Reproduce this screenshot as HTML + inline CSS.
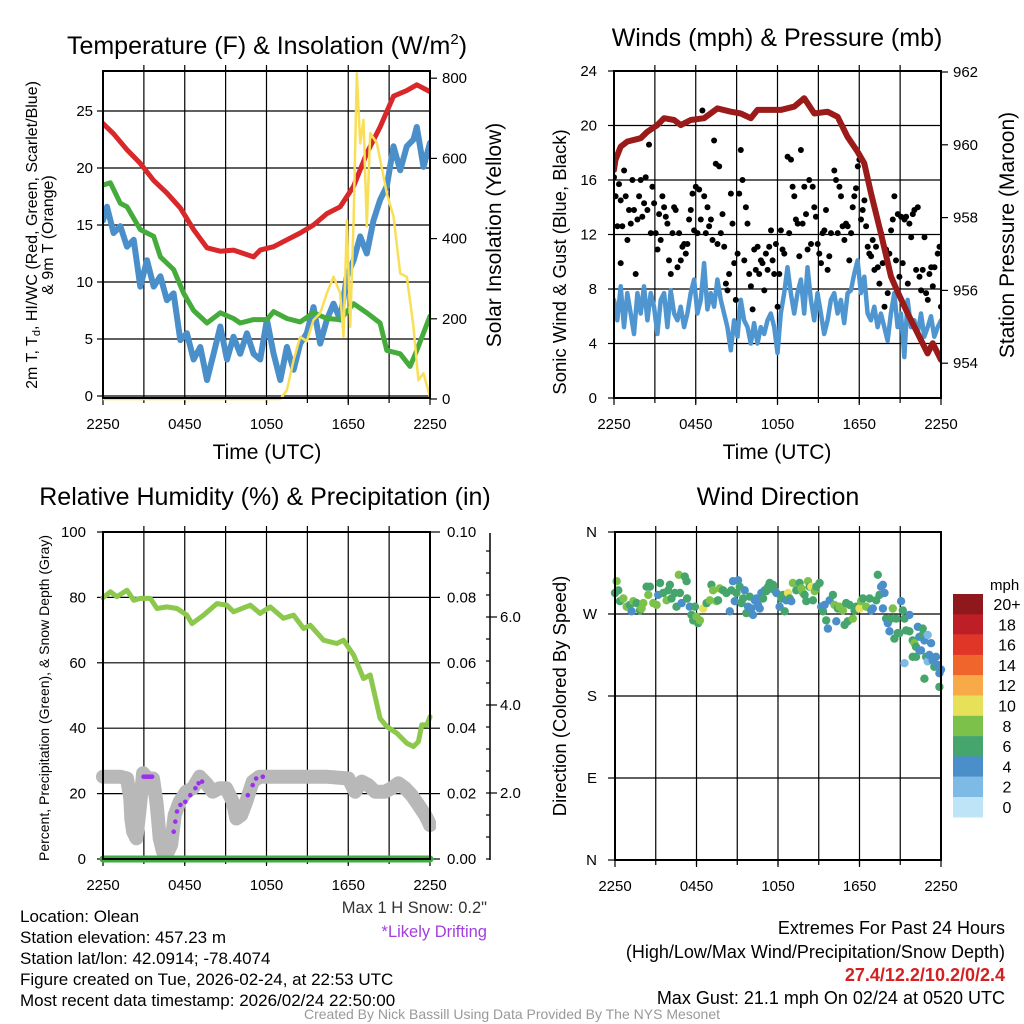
<!DOCTYPE html>
<html><head><meta charset="utf-8"><style>
html,body{margin:0;padding:0;background:#fff}
svg{display:block;font-family:"Liberation Sans",Arial,sans-serif}
</style></head><body>
<svg id="fig" width="1024" height="1024" viewBox="0 0 1024 1024" xmlns="http://www.w3.org/2000/svg">
<defs>
<clipPath id="c1"><rect x="103" y="66" width="327" height="336"/></clipPath>
<clipPath id="c2"><rect x="614" y="71" width="327" height="331"/></clipPath>
<clipPath id="c3"><rect x="96" y="532" width="340" height="334"/></clipPath>
<clipPath id="c4"><rect x="607" y="532" width="340" height="328"/></clipPath>
</defs>
<g id="grids" stroke="#000" stroke-width="1.2" fill="none"></g>
<g id="marks"></g>
<g id="frames" fill="none" stroke="#000" stroke-width="2">
<rect x="103" y="71" width="327" height="327"/>
<rect x="614" y="71" width="327" height="327"/>
<rect x="103" y="532" width="327" height="327"/>
<rect x="615" y="532" width="326" height="328"/>
<line x1="490" y1="533" x2="490" y2="860" stroke-width="1.5"/>
</g>
<g id="labels" font-size="15" fill="#000"></g>
<g font-size="25" text-anchor="middle">
<text x="267" y="54">Temperature (F) &amp; Insolation (W/m<tspan font-size="15" dy="-10">2</tspan><tspan dy="10">)</tspan></text>
<text x="777" y="46">Winds (mph) &amp; Pressure (mb)</text>
<text x="265" y="505">Relative Humidity (%) &amp; Precipitation (in)</text>
<text x="778" y="505">Wind Direction</text>
</g>
<g font-size="21" text-anchor="middle">
<text x="267" y="459">Time (UTC)</text>
<text x="777" y="459">Time (UTC)</text>
<text transform="translate(501,235) rotate(-90)">Solar Insolation (Yellow)</text>
<text transform="translate(1014,235) rotate(-90)">Station Pressure (Maroon)</text>
</g>
<g font-size="18.5" text-anchor="middle">
<text transform="translate(566,262) rotate(-90)">Sonic Wind &amp; Gust (Blue, Black)</text>
<text transform="translate(566,696) rotate(-90)">Direction (Colored By Speed)</text>
</g>
<g font-size="16" text-anchor="middle">
<text transform="translate(37,235) rotate(-90)">2m T, T<tspan font-size="11" dy="3">d</tspan><tspan dy="-3">, HI/WC (Red, Green, Scarlet/Blue)</tspan></text>
<text transform="translate(53,235) rotate(-90)">&amp; 9m T (Orange)</text>
<text transform="translate(49,698) rotate(-90)" font-size="14">Percent, Precipitation (Green), &amp; Snow Depth (Gray)</text>
</g>
<g font-size="17">
<text x="20" y="922">Location: Olean</text>
<text x="20" y="943">Station elevation: 457.23 m</text>
<text x="20" y="964">Station lat/lon: 42.0914; -78.4074</text>
<text x="20" y="985">Figure created on Tue, 2026-02-24, at 22:53 UTC</text>
<text x="20" y="1006">Most recent data timestamp: 2026/02/24 22:50:00</text>
<text x="487" y="913" font-size="16.5" text-anchor="end" fill="#333">Max 1 H Snow: 0.2"</text>
<text x="487" y="937" font-size="16.5" text-anchor="end" fill="#a040e0">*Likely Drifting</text>
</g>
<g font-size="18" text-anchor="end">
<text x="1005" y="934">Extremes For Past 24 Hours</text>
<text x="1005" y="958">(High/Low/Max Wind/Precipitation/Snow Depth)</text>
<text x="1005" y="981" fill="#d42020" font-weight="bold">27.4/12.2/10.2/0/2.4</text>
<text x="1005" y="1004">Max Gust: 21.1 mph On 02/24 at 0520 UTC</text>
</g>
<text x="512" y="1019" text-anchor="middle" font-size="14" fill="#999">Created By Nick Bassill Using Data Provided By The NYS Mesonet</text>
<g id="cbar"></g>
</svg>
<script>
// ---------- data ----------
const xTickLabels = ["2250","0450","1050","1650","2250"];
const tempTickLabels = [0,5,10,15,20,25];
const solarTickLabels = [0,200,400,600,800];
const windTickLabels = [0,4,8,12,16,20,24];
const presTickLabels = [954,956,958,960,962];
const rhTickLabels = [0,20,40,60,80,100];
const precipTickLabels = ["0.00","0.02","0.04","0.06","0.08","0.10"];
const snowTickLabels = ["2.0","4.0","6.0"];
const dirTickLabels = ["N","E","S","W","N"];
const speedBins = ["0","2","4","6","8","10","12","14","16","18","20+"];
const speedColors = ["#bde4f7","#7dbbe6","#4a8fc9","#46a56c","#7cc24a","#e7e15a","#f7aa47","#ef652b","#df3628","#be1e26","#8f181c"];

const redHours = [0,0.78,1.76,2.74,3.72,4.69,5.67,6.65,7.63,8.61,9.58,10.56,11.05,11.54,12.52,13.5,14.47,15.45,16.43,17.41,18.39,19.36,20.34,21.32,22.3,23.03,24];
const redTemp = [23.9,23.0,21.6,20.4,18.9,17.8,16.5,14.6,13.0,12.7,12.8,12.4,12.2,12.8,13.1,13.7,14.3,15.0,16.0,16.6,18.4,21.3,23.6,26.3,26.8,27.3,26.7];
const greenHours = [0,0.54,1.27,1.76,2.74,3.72,4.21,5.18,5.92,6.65,7.63,8.61,9.58,10.07,11.05,12.03,12.52,13.5,14.47,15.45,16.43,17.41,18.39,19.36,20.34,20.83,21.81,22.54,23.03,24];
const greenTemp = [18.5,18.7,16.9,16.6,14.6,14.0,12.2,11.1,9.0,7.5,6.4,7.3,6.8,6.4,6.7,6.7,7.4,6.8,6.5,7.3,6.8,6.7,8.1,7.3,6.4,4.0,3.7,2.6,4.0,7.0];
const blueHours = [0,0.29,0.78,1.27,1.76,2.25,2.74,3.23,3.72,4.21,4.69,5.18,5.67,6.16,6.65,7.14,7.63,8.12,8.61,9.1,9.58,10.07,10.56,11.05,11.54,12.03,12.52,13.01,13.5,13.99,14.47,14.96,15.45,15.94,16.43,16.92,17.41,17.9,18.39,18.88,19.36,19.85,20.34,20.83,21.32,21.81,22.3,22.79,23.03,23.52,24.0];
const blueTemp = [15.4,16.6,14.3,14.9,13.1,13.7,9.6,11.9,9.6,10.5,8.4,9.0,4.9,5.5,3.2,4.3,1.4,3.7,6.1,3.2,5.2,3.7,5.5,3.7,3.2,6.7,3.7,1.4,4.3,2.3,4.6,5.5,7.8,4.6,6.7,8.1,6.7,10.5,11.9,14.0,12.5,15.4,17.2,18.4,21.9,19.8,21.9,22.5,23.6,20.1,22.2];
const solarHours = [0,13.01,13.5,13.99,14.47,14.96,15.45,15.94,16.43,16.92,17.41,17.65,17.9,18.14,18.39,18.63,18.88,19.12,19.36,19.61,20.1,20.83,21.32,21.81,22.3,22.79,23.15,23.52,24];
const solarWm2 = [0,0,22,97,155,144,197,214,264,305,264,155,446,180,446,812,638,696,430,663,638,513,455,313,305,180,47,64,5];

const presHours = [0,0.1,0.49,0.98,1.96,2.45,3.18,3.67,4.41,4.9,5.63,6.61,7.59,8.57,9.31,10.04,10.53,11.27,12.25,13.23,13.96,14.7,15.67,16.41,17.14,17.88,18.37,18.86,19.59,20.33,20.82,21.55,22.29,23.02,23.39,24];
const presMb = [959.31,959.58,959.95,960.09,960.18,960.36,960.54,960.73,960.68,960.54,960.68,960.73,961.0,960.91,960.86,960.73,960.96,960.96,960.96,961.05,961.28,960.86,960.91,960.77,960.22,959.81,959.49,958.67,957.57,956.38,955.96,955.37,954.82,954.27,954.55,954.09];
const windMph = [7.2,5.7,8.2,5.2,7.7,6.2,4.7,7.7,6.2,8.2,5.7,7.7,6.7,4.7,7.2,7.7,5.2,7.9,6.2,5.7,6.7,5.2,6.2,7.7,8.7,6.2,7.2,9.9,6.5,7.7,6.7,8.7,7.2,6.2,5.2,3.5,5.7,4.5,7.2,5.7,5.2,4.0,5.5,4.0,5.2,4.7,5.7,6.2,5.2,3.3,6.2,7.7,9.6,7.7,6.2,7.7,8.7,6.2,9.6,7.2,5.7,7.7,6.2,4.7,5.7,7.2,7.7,6.2,7.2,5.5,7.7,7.9,9.1,10.1,7.7,8.9,6.2,5.7,6.7,5.2,6.2,5.2,4.2,6.2,7.7,5.2,6.2,3.0,7.2,5.2,5.7,4.7,6.2,4.5,5.2,6.0,4.5,5.2,5.7];
const gustHours = [0,0.12,0.25,0.37,0.49,0.61,0.49,0.74,0.86,0.98,1.1,1.23,1.35,1.47,1.59,1.72,1.84,1.96,2.08,2.21,2.33,2.45,2.57,2.7,2.82,2.94,3.06,3.19,3.31,3.43,3.55,3.68,3.8,3.92,4.04,4.17,4.29,4.41,4.53,4.66,4.78,4.9,5.02,5.15,5.27,5.39,5.51,5.64,5.76,5.88,6.0,6.13,6.25,6.37,6.49,6.62,6.74,6.86,6.98,7.11,7.23,7.35,7.47,7.6,7.72,7.84,7.96,8.09,8.21,8.33,8.45,8.58,8.7,8.82,8.94,9.07,9.19,9.31,9.43,9.56,9.68,9.8,9.92,10.05,10.17,10.29,10.41,10.54,10.66,10.78,10.9,11.03,11.15,11.27,11.39,11.52,11.64,11.76,11.88,12.01,12.13,12.25,12.37,12.5,12.74,12.86,12.99,13.11,13.23,13.35,13.48,13.6,13.72,13.84,13.97,14.09,14.21,14.33,14.46,14.58,14.7,14.82,14.95,15.07,15.19,15.31,15.44,15.56,15.68,15.8,15.93,16.17,16.29,16.42,16.54,16.66,16.78,16.91,17.03,17.15,17.27,17.4,17.52,17.64,17.76,17.89,18.01,18.13,18.25,18.38,18.5,18.62,18.74,18.87,18.99,19.11,19.23,19.36,19.48,19.6,19.72,19.85,19.97,20.09,20.21,20.34,20.46,20.58,20.7,20.83,20.95,21.07,21.19,21.32,21.44,21.56,21.68,21.81,21.93,22.05,22.17,22.3,22.42,22.54,22.66,22.79,22.91,23.03,23.15,23.28,23.4,23.52,23.76,23.89,24.0];
const gustMph = [16.2,14.8,12.6,15.7,14.5,12.6,9.9,16.7,14.8,11.6,13.8,12.8,16.0,13.8,9.1,13.1,14.8,16.0,13.3,14.3,16.2,13.8,18.6,12.1,15.5,14.3,12.1,10.9,13.5,11.6,14.8,14.0,13.3,12.8,10.1,9.1,12.1,14.0,13.8,9.6,12.1,10.1,11.1,11.3,10.6,11.3,13.1,13.8,15.0,12.3,15.5,12.1,15.3,13.1,21.1,14.8,12.1,14.0,12.6,13.1,11.6,18.9,17.2,11.3,17.0,12.1,13.5,11.1,8.4,7.9,9.1,15.0,12.8,9.9,7.2,10.6,15.0,18.2,16.0,10.1,14.0,12.8,9.1,8.2,6.5,10.9,9.4,11.1,9.1,10.1,9.9,7.9,10.6,9.4,11.1,12.3,10.1,9.1,11.3,6.7,9.1,12.3,10.9,10.6,17.7,12.1,17.5,15.5,14.8,13.1,12.8,10.4,18.2,12.8,15.5,13.5,10.9,16.0,11.3,15.5,14.0,13.3,11.3,10.6,9.9,12.1,12.3,13.8,9.4,10.4,12.1,16.7,16.0,12.1,15.5,14.8,12.6,11.6,12.8,12.6,10.1,12.1,14.0,14.8,15.4,17.0,17.5,13.1,13.8,14.5,12.6,11.1,10.6,10.4,11.6,9.4,11.1,9.6,8.4,12.1,9.9,6.7,10.9,7.7,10.6,12.3,13.1,14.8,10.1,13.5,8.9,13.3,9.9,13.1,13.3,8.4,12.8,11.8,13.5,13.8,9.4,14.0,8.9,7.9,9.4,11.8,7.7,7.2,9.1,9.6,8.2,9.6,10.6,11.1,6.7];

const rhHours = [0,0.54,1.03,1.76,2.25,2.74,3.47,3.96,4.69,5.43,6.16,6.53,7.38,8.36,9.1,9.58,10.81,11.54,12.27,13.25,13.99,14.72,15.21,16.19,17.16,17.65,18.39,19.12,19.61,20.34,20.83,21.56,22.3,22.79,23.15,23.4,23.77,24];
const rhPct = [79.9,81.7,80.2,82.2,79.1,79.7,79.7,76.6,77.1,76.6,74.6,72.0,74.6,78.1,77.6,75.6,77.6,75.1,77.1,73.6,74.6,70.5,71.5,66.9,65.9,66.9,62.4,55.2,56.3,43.0,40.5,38.5,35.4,34.4,35.9,41.0,41.0,43.5];
const precipHours = [0,24];
const precipIn = [0,0];
const snowHours = [0,0.54,1.27,1.76,2.0,2.08,2.21,2.45,2.69,2.94,3.3,3.67,3.92,4.04,4.16,4.4,4.65,5.0,5.26,5.62,6.11,6.6,7.1,7.57,8.06,8.55,9.04,9.53,9.78,10.14,10.51,10.99,11.48,12.97,14.44,16.4,18.01,18.5,18.99,19.47,19.96,20.7,21.19,21.68,22.17,22.66,23.15,23.64,23.89,24];
const snowIn = [2.37,2.37,2.37,2.33,1.88,1.42,1.12,0.97,1.65,2.45,2.33,2.33,1.80,1.42,0.97,0.67,0.59,0.82,1.50,1.80,2.03,2.11,2.37,2.22,2.03,2.11,2.11,1.80,1.42,1.50,1.80,2.26,2.37,2.37,2.37,2.37,2.33,2.03,2.26,2.18,2.03,2.03,2.11,2.22,2.11,1.95,1.73,1.50,1.35,1.27];
const driftHours = [2.98,3.1,3.22,3.35,3.47,3.6,5.19,5.31,5.43,5.68,6.04,6.41,6.78,7.02,7.27,10.63,10.99,11.24,11.73];
const driftIn = [2.37,2.37,2.37,2.37,2.37,2.37,1.12,1.35,1.58,1.73,1.80,1.95,2.11,2.22,2.26,1.95,2.18,2.33,2.37];

const dirHours = [0,0.12,0.24,0.37,0.61,0.86,1.1,1.22,1.35,1.59,1.84,1.96,2.08,2.33,2.45,2.57,2.82,3.06,3.18,3.31,3.55,3.8,3.92,4.04,4.16,4.41,4.53,4.7,4.78,4.9,5.14,5.27,5.31,5.51,5.63,5.76,5.88,6.0,6.12,6.25,6.49,6.74,6.98,7.1,7.22,7.47,7.59,7.71,7.96,8.2,8.45,8.57,8.69,8.82,8.94,9.06,9.18,9.31,9.43,9.55,9.67,9.8,9.92,10.04,10.16,10.29,10.41,10.53,10.65,10.78,10.9,11.02,11.14,11.27,11.39,11.51,11.63,11.76,11.88,12.12,12.25,12.37,12.49,12.61,12.74,12.86,12.98,13.1,13.35,13.59,13.72,13.84,13.96,14.08,14.21,14.33,14.45,14.57,14.7,14.82,15.06,15.18,15.31,15.43,15.55,15.67,15.8,16.04,16.16,16.29,16.41,16.53,16.78,16.9,17.02,17.14,17.27,17.51,17.63,17.76,18.0,18.12,18.25,18.49,18.74,18.86,18.98,19.23,19.35,19.47,19.59,19.72,19.84,19.72,19.96,20.08,20.21,20.33,20.45,20.57,20.7,20.82,20.94,21.06,21.19,21.31,21.43,21.67,21.67,21.92,22.04,22.16,22.29,22.41,22.53,22.65,22.65,22.78,22.9,23.02,23.02,23.14,23.27,23.39,23.51,23.63,23.76,23.88,24.0,23.88,21.31,22.78,21.92,22.16,22.41];
const dirDeg = [293,306,296,284,287,278,280,273,284,282,274,276,282,300,291,300,282,280,291,304,293,285,296,302,287,293,278,313,293,282,311,306,287,278,269,263,278,267,260,263,276,282,285,302,296,284,285,298,296,293,273,296,306,284,293,307,300,282,287,296,271,278,289,276,269,285,287,280,276,293,287,296,295,300,304,298,302,296,293,278,287,291,273,285,293,287,284,304,296,304,298,293,291,284,306,300,300,285,295,300,304,278,273,280,263,254,285,291,280,262,276,278,274,258,282,262,280,265,274,278,276,284,287,278,287,274,276,285,313,291,300,302,293,276,265,260,251,265,276,243,265,249,249,284,274,265,252,269,251,241,238,234,256,245,230,254,247,241,223,247,218,225,238,219,212,223,214,205,209,190,216,199,223,223,230];
const dirSpeed = [6.5,8.5,6.5,6.5,8.5,8.5,6.5,4.5,8.5,6.5,6.5,8.5,8.5,6.5,8.5,6.5,8.5,8.5,4.5,6.5,6.5,8.5,6.5,6.5,6.5,6.5,6.5,8.5,6.5,4.5,6.5,6.5,6.5,4.5,6.5,6.5,6.5,8.5,6.5,8.5,10.5,6.5,8.5,6.5,8.5,8.5,6.5,8.5,6.5,6.5,4.5,6.5,4.5,4.5,6.5,4.5,6.5,6.5,6.5,4.5,6.5,4.5,6.5,4.5,4.5,4.5,4.5,4.5,4.5,4.5,6.5,4.5,6.5,6.5,6.5,6.5,6.5,6.5,4.5,4.5,6.5,6.5,6.5,4.5,10.5,6.5,4.5,8.5,6.5,6.5,8.5,8.5,6.5,6.5,8.5,6.5,10.5,6.5,8.5,6.5,6.5,4.5,6.5,4.5,6.5,4.5,4.5,6.5,8.5,4.5,6.5,8.5,8.5,6.5,6.5,6.5,6.5,8.5,6.5,6.5,10.5,8.5,6.5,8.5,6.5,4.5,4.5,6.5,6.5,6.5,4.5,4.5,4.5,4.5,6.5,4.5,4.5,6.5,8.5,6.5,6.5,6.5,6.5,4.5,6.5,6.5,6.5,4.5,6.5,6.5,8.5,6.5,4.5,4.5,4.5,6.5,6.5,4.5,6.5,2.5,2.5,4.5,4.5,4.5,6.5,4.5,4.5,4.5,4.5,6.5,2.5,6.5,6.5,6.5,4.5];

// ---------- scales ----------
const NS="http://www.w3.org/2000/svg";
function el(tag,parent){const e=document.createElementNS(NS,tag);parent.appendChild(e);return e;}
const x1=h=>103+h/24*327, x2=h=>614+h/24*327, x4=h=>615+h/24*326;
const yT=v=>396-v*11.4, yS=v=>399-v*0.401;
const yW=v=>398-v*13.625, yP=v=>72+(962-v)*36.4;
const yR=v=>859-v*3.27, yPr=v=>859-v*3270, ySn=v=>881-v*44;
const yD=v=>860-v/360*328;
const grids=document.getElementById('grids'), marks=document.getElementById('marks'), labels=document.getElementById('labels');

function gl(a,b,c,d,name){const l=el('line',grids);l.setAttribute('x1',a);l.setAttribute('y1',b);l.setAttribute('x2',c);l.setAttribute('y2',d);


return l;}
function txt(x,y,s,anchor,name,parent){const t=el('text',parent||labels);t.setAttribute('x',x);t.setAttribute('y',y);t.setAttribute('text-anchor',anchor);t.textContent=s;


return t;}

[[103,430,71,398,x1],[614,941,71,398,x2],[103,430,532,859,x1],[615,941,532,860,x4]].forEach((p,pi)=>{
  for(let h=3;h<24;h+=3){gl(p[4](h),p[2]-6,p[4](h),p[3]+5,'vertical-gridline');}
  for(let i=0;i<xTickLabels.length;i++){const h=i*6;gl(p[4](h),p[3],p[4](h),p[3]+7,'x-tick');
    txt(p[4](h),p[3]+31,xTickLabels[i],'middle','x-tick-label');}
});
tempTickLabels.forEach(v=>{gl(103,yT(v),430,yT(v),'temp-gridline');gl(97,yT(v),103,yT(v),'y-tick');txt(93,yT(v)+5,String(v),'end','temp-tick-label');});
solarTickLabels.forEach(v=>{gl(430,yS(v),437,yS(v),'y-tick');txt(442,yS(v)+5,String(v),'start','solar-tick-label');});
windTickLabels.forEach(v=>{gl(614,yW(v),941,yW(v),'wind-gridline');gl(608,yW(v),614,yW(v),'y-tick');txt(597,yW(v)+5,String(v),'end','wind-tick-label');});
presTickLabels.forEach(v=>{gl(941,yP(v),948,yP(v),'y-tick');txt(953,yP(v)+5,String(v),'start','pressure-tick-label');});
rhTickLabels.forEach(v=>{gl(103,yR(v),430,yR(v),'rh-gridline');gl(97,yR(v),103,yR(v),'y-tick');txt(86,yR(v)+5,String(v),'end','rh-tick-label');});
precipTickLabels.forEach(s=>{const y=yPr(parseFloat(s));gl(430,y,440,y,'y-tick');txt(447,y+5,s,'start','precip-tick-label');});
snowTickLabels.forEach(s=>{const y=ySn(parseFloat(s));gl(490,y,497,y,'y-tick');txt(500,y+5,s,'start','snow-tick-label');});
for(let d=0.5;d<8;d+=0.5){gl(486,ySn(d),490,ySn(d),'snow-minor-tick');}
dirTickLabels.forEach((s,i)=>{const v=i*90;if(i>0&&i<4)gl(615,yD(v),941,yD(v),'dir-gridline');gl(608,yD(v),615,yD(v),'y-tick');txt(597,yD(v)+5,s,'end','dir-tick-label');});

function poly(xs,ys,fx,fy,color,w,clip,name){
  const p=el('polyline',marks);
  p.setAttribute('points',xs.map((h,i)=>fx(h).toFixed(1)+','+fy(ys[i]).toFixed(1)).join(' '));
  p.setAttribute('fill','none');p.setAttribute('stroke',color);p.setAttribute('stroke-width',w);
  p.setAttribute('stroke-linejoin','round');p.setAttribute('stroke-linecap','round');p.setAttribute('clip-path','url(#'+clip+')');
  
  
  return p;
}
function dot(cx,cy,r,color,clip,name){
  const c=el('circle',marks);c.setAttribute('cx',cx.toFixed(1));c.setAttribute('cy',cy.toFixed(1));c.setAttribute('r',r);c.setAttribute('fill',color);
  c.setAttribute('clip-path','url(#'+clip+')');
  
  
  return c;
}
poly(blueHours,blueTemp,x1,yT,'#4a8fc9',6,'c1','wind-chill-line');
poly(greenHours,greenTemp,x1,yT,'#45ac3c',5,'c1','dewpoint-line');
poly(redHours,redTemp,x1,yT,'#d8282a',5,'c1','temperature-line');
poly(solarHours,solarWm2,x1,yS,'#f9df57',2.5,'c1','solar-insolation-line');
poly(windMph.map((v,i)=>i*24/(windMph.length-1)),windMph,x2,yW,'#4f96d1',4.5,'c2','wind-speed-line');
gustHours.forEach((h,i)=>dot(x2(h),yW(gustMph[i]),3,'#000','c2','gust-point'));
poly(presHours,presMb,x2,yP,'#9b1a1a',6,'c2','pressure-line');
poly(rhHours,rhPct,x1,yR,'#8cc84b',5,'c3','rh-line');
poly(snowHours,snowIn,x1,ySn,'#b8b8b8',14,'c3','snow-depth-line');
driftHours.forEach((h,i)=>dot(x1(h),ySn(driftIn[i]),2.3,'#9b30f0','c3','drifting-point'));
poly(precipHours,precipIn,x1,yPr,'#3fae3f',7,'c3','precipitation-line');
dirHours.forEach((h,i)=>{const b=Math.min(10,Math.floor(dirSpeed[i]/2));dot(x4(h),yD(dirDeg[i]),4.2,speedColors[b],'c4','direction-point');});

const cb=document.getElementById('cbar');
txt(990,590,'mph','start','colorbar-title',cb).setAttribute('font-size','15');
for(let i=0;i<speedBins.length;i++){
  const k=speedBins.length-1-i;const r=el('rect',cb);
  r.setAttribute('x',953);r.setAttribute('y',594+i*20.3);r.setAttribute('width',30);r.setAttribute('height',20.5);r.setAttribute('fill',speedColors[k]);
  
  
  const t=txt(1007,594+i*20.3+16,speedBins[k],'middle','colorbar-label',cb);t.setAttribute('font-size','16');
}
</script>
</body></html>
